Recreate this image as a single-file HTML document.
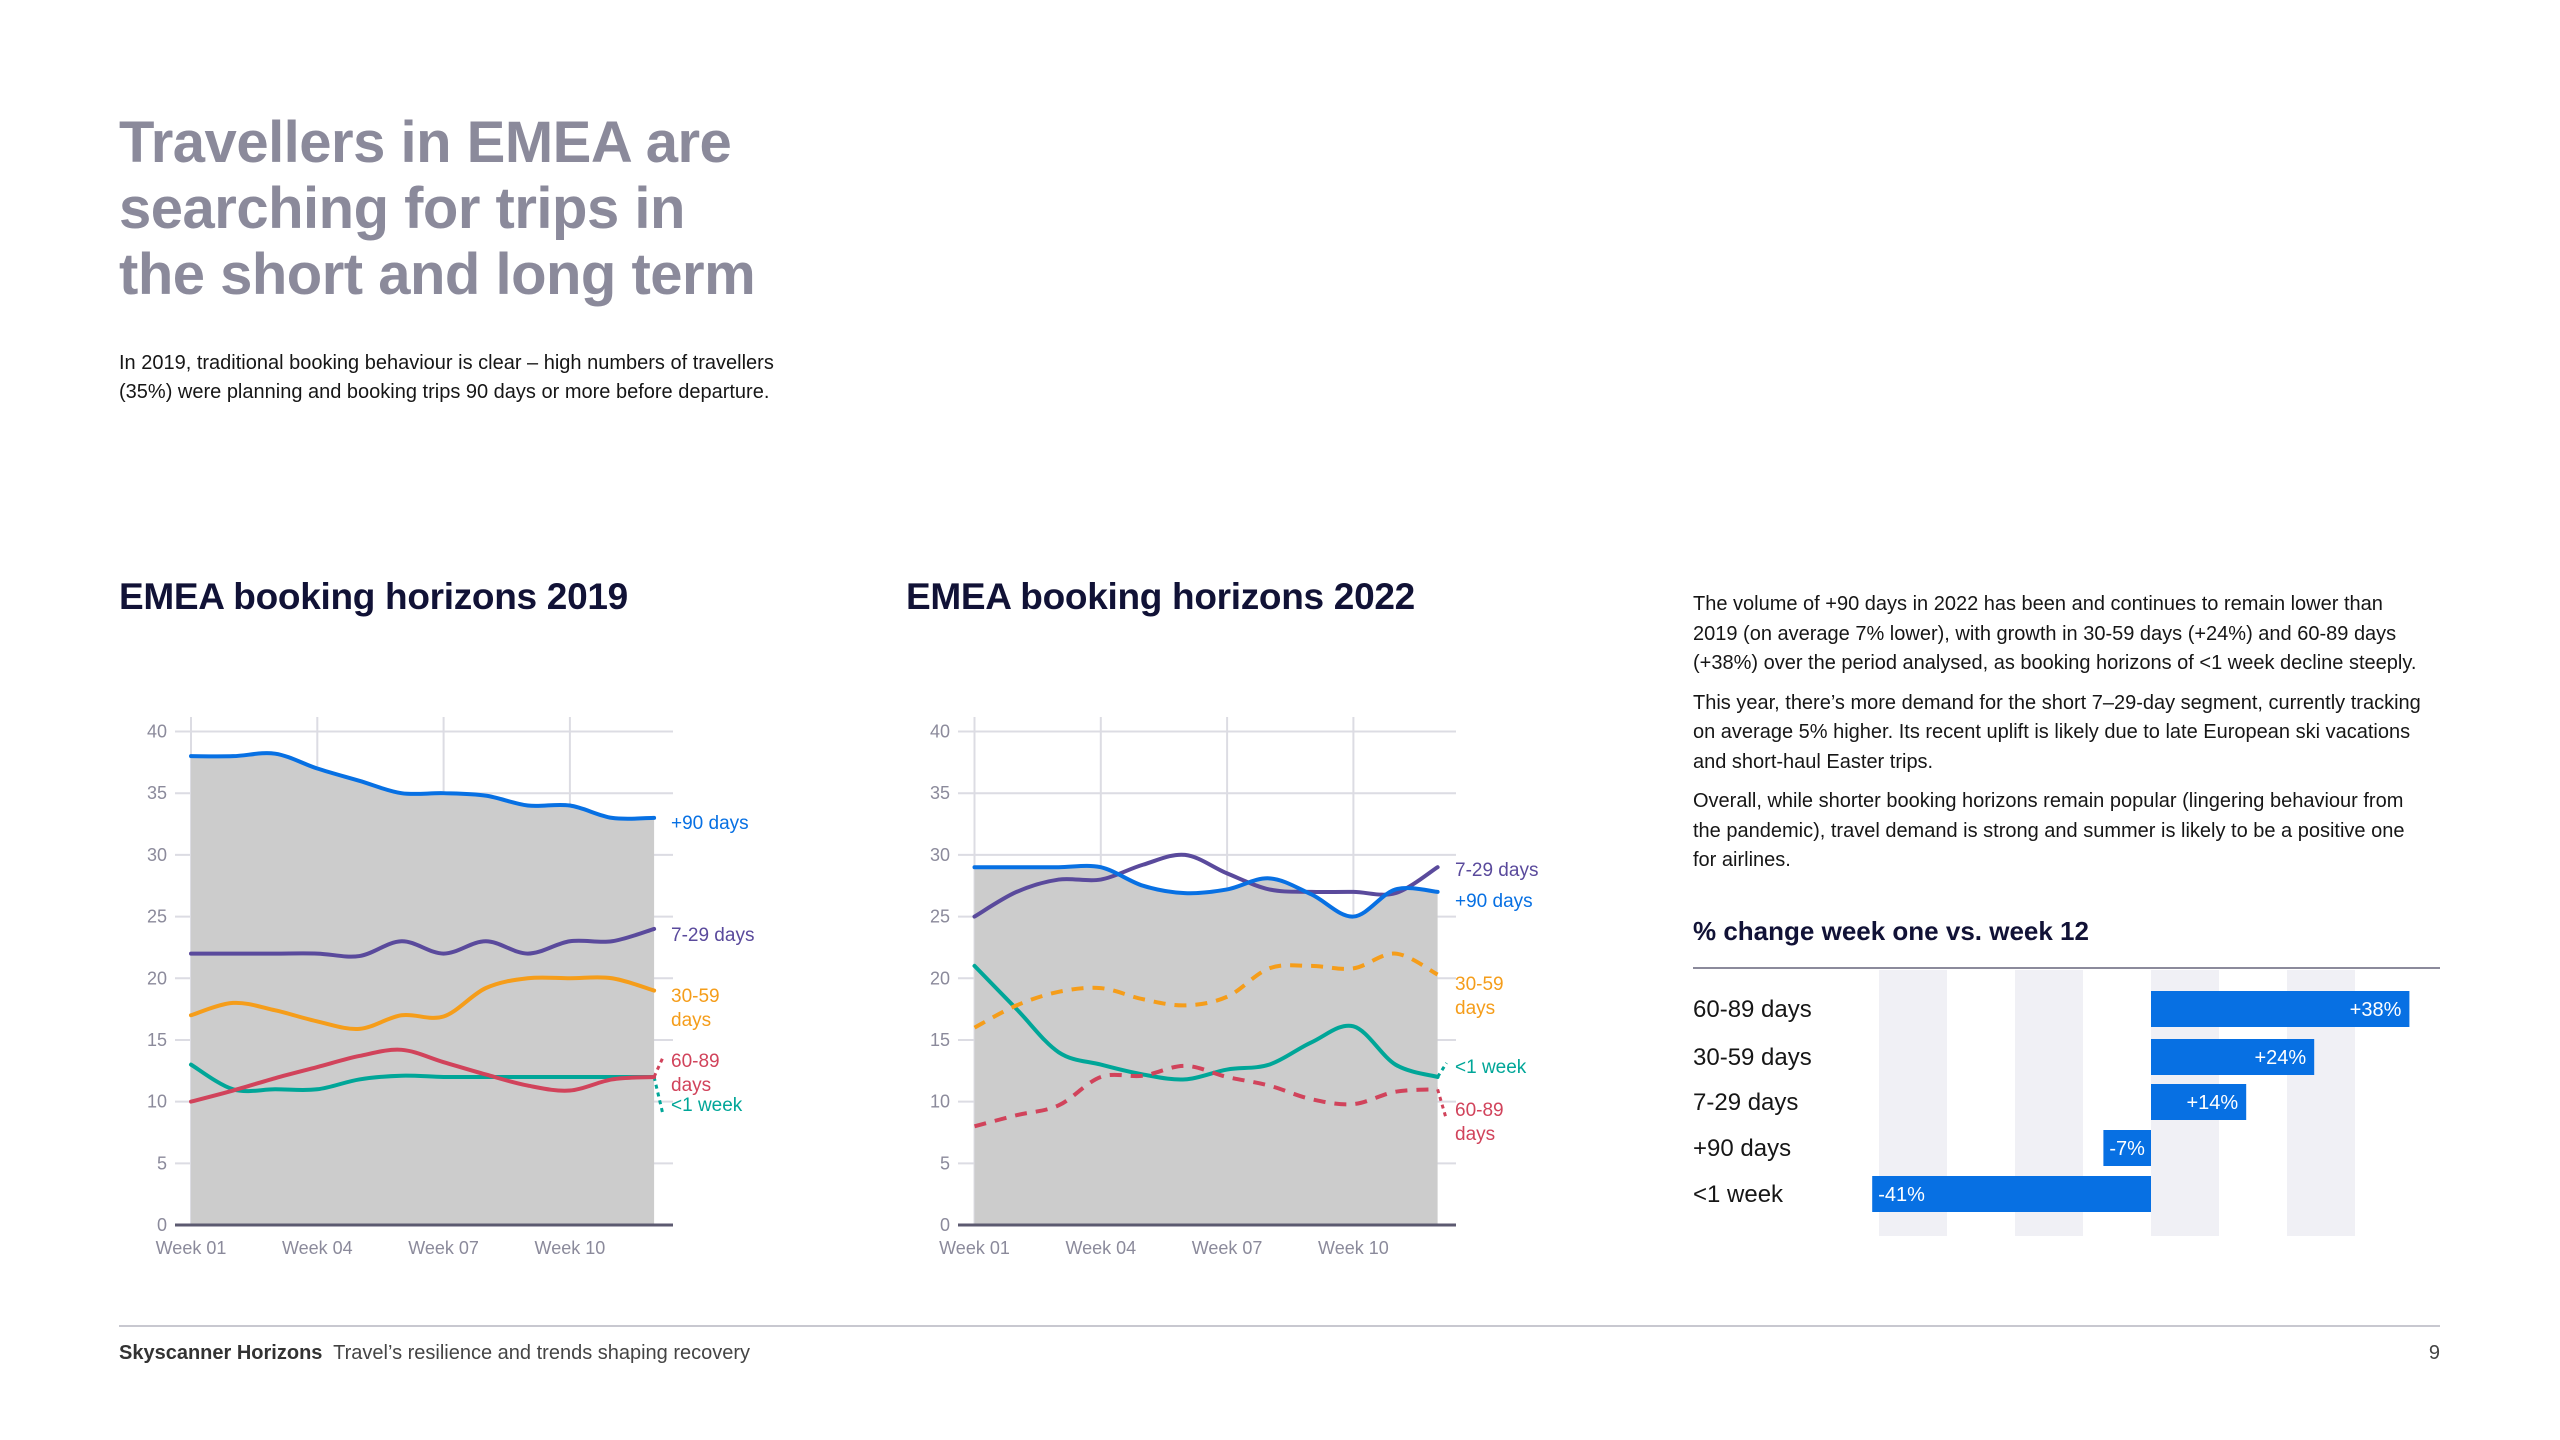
<!DOCTYPE html>
<html><head><meta charset="utf-8">
<style>
html,body{margin:0;padding:0;background:#fff;}
body{width:2560px;height:1440px;position:relative;overflow:hidden;font-family:"Liberation Sans",sans-serif;color:#161616;}
.abs{position:absolute;}
#title{left:119px;top:110px;font-size:58px;line-height:66px;font-weight:bold;color:#8b8a9b;letter-spacing:-0.5px;}
#intro{left:119px;top:349px;font-size:20px;line-height:29px;color:#161616;}
.ctitle{font-size:37px;font-weight:bold;color:#111236;top:576px;letter-spacing:-0.3px;}
#rtext{left:1693px;top:590px;width:738px;font-size:20px;line-height:29.5px;}
#rtext p{margin:0 0 10px 0;}
#bartitle{left:1693px;top:916px;font-size:26px;font-weight:bold;color:#111236;}
#footline{left:119px;top:1325px;width:2321px;height:2px;background:#c8c8d0;}
#foot{left:119px;top:1342px;font-size:20px;color:#444;}
#pagenum{left:2420px;top:1342px;width:20px;text-align:right;font-size:20px;color:#444;}
svg text{font-family:"Liberation Sans",sans-serif;}
</style></head><body>
<div id="title" class="abs">Travellers in EMEA are<br>searching for trips in<br>the short and long term</div>
<div id="intro" class="abs">In 2019, traditional booking behaviour is clear – high numbers of travellers<br>(35%) were planning and booking trips 90 days or more before departure.</div>
<div class="abs ctitle" style="left:119px">EMEA booking horizons 2019</div>
<div class="abs ctitle" style="left:906px">EMEA booking horizons 2022</div>
<div id="rtext" class="abs">
<p>The volume of +90 days in 2022 has been and continues to remain lower than 2019 (on average 7% lower), with growth in 30-59 days (+24%) and 60-89 days (+38%) over the period analysed, as booking horizons of &lt;1 week decline steeply.</p>
<p>This year, there’s more demand for the short 7–29-day segment, currently tracking on average 5% higher. Its recent uplift is likely due to late European ski vacations and short-haul Easter trips.</p>
<p>Overall, while shorter booking horizons remain popular (lingering behaviour from the pandemic), travel demand is strong and summer is likely to be a positive one for airlines.</p>
</div>
<div id="bartitle" class="abs">% change week one vs. week 12</div>
<svg id="charts" class="abs" style="left:0;top:0" width="2560" height="1440"></svg>
<div id="footline" class="abs"></div>
<div id="foot" class="abs"><b style="color:#333">Skyscanner Horizons</b>&nbsp; Travel’s resilience and trends shaping recovery</div>
<div id="pagenum" class="abs">9</div>
<script>
const weeks = ["Week 01","Week 02","Week 03","Week 04","Week 05","Week 06","Week 07","Week 08","Week 09","Week 10","Week 11","Week 12"];
const weekTicks = ["Week 01","Week 04","Week 07","Week 10"];
const yTicks = [0,5,10,15,20,25,30,35,40];
const s2019_90 = [38,38,38.2,37,36,35,35,34.8,34,34,33,33];
const s2019_729 = [22,22,22,22,21.8,23,22,23,22,23,23,24];
const s2019_3059 = [17,18,17.4,16.5,15.9,17,16.9,19.2,20,20,20,19];
const s2019_6089 = [10,10.9,11.9,12.8,13.7,14.2,13.2,12.2,11.3,10.9,11.8,12];
const s2019_lt1 = [13,11,11,11,11.8,12.1,12,12,12,12,12,12];
const s2022_90 = [29,29,29,29,27.5,26.9,27.2,28.1,26.8,25,27.2,27];
const s2022_729 = [25,27,28,28,29.2,30,28.5,27.2,27,27,26.9,29];
const s2022_3059 = [16,17.8,18.9,19.2,18.3,17.8,18.5,20.8,21,20.8,22,20.3];
const s2022_6089 = [8,8.9,9.7,12,12.1,12.9,12,11.3,10.2,9.8,10.8,11];
const s2022_lt1 = [21,17.5,14,13,12.2,11.8,12.6,13,14.8,16.1,13,12];
const barCats = ["60-89 days","30-59 days","7-29 days","+90 days","<1 week"];
const barVals = [38,24,14,-7,-41];
const barLabels = ["+38%","+24%","+14%","-7%","-41%"];

const NS="http://www.w3.org/2000/svg";
const svg=document.getElementById('charts');
function mk(tag,attrs,parent){const e=document.createElementNS(NS,tag);for(const k in attrs)e.setAttribute(k,attrs[k]);(parent||svg).appendChild(e);return e;}
function smooth(pts){let d="M"+pts[0][0]+","+pts[0][1];for(let i=0;i<pts.length-1;i++){const p0=pts[i-1]||pts[i],p1=pts[i],p2=pts[i+1],p3=pts[i+2]||p2;
const c1=[p1[0]+(p2[0]-p0[0])/6,p1[1]+(p2[1]-p0[1])/6],c2=[p2[0]-(p3[0]-p1[0])/6,p2[1]-(p3[1]-p1[1])/6];
d+=" C"+c1[0]+","+c1[1]+" "+c2[0]+","+c2[1]+" "+p2[0]+","+p2[1];}return d;}

function lineChart(cfg){
  const g=mk('g',{});
  
  
  const x0=cfg.x0, step=42.1, yb=1225, yt=731.5;
  const xs=i=>x0+i*step, ys=v=>yb-(v/40)*(yb-yt);
  weekTicks.forEach(t=>{const i=weeks.indexOf(t);
    const l=mk('line',{x1:xs(i),x2:xs(i),y1:717,y2:yb,stroke:'#dcdce3','stroke-width':2},g);
    
    
    const tx=mk('text',{x:xs(i),y:1254,'text-anchor':'middle','font-size':18,fill:'#8b8a9b'},g);tx.textContent=t;
    
    
  });
  yTicks.forEach(v=>{
    if(v>0){const l=mk('line',{x1:cfg.ax0,x2:cfg.ax1,y1:ys(v),y2:ys(v),stroke:'#dcdce3','stroke-width':2},g);
    
    }
    const tx=mk('text',{x:cfg.ax0-8,y:ys(v)+6,'text-anchor':'end','font-size':18,fill:'#8b8a9b'},g);tx.textContent=v;
    
    
  });
  const p90=cfg.series[0].data.map((v,i)=>[xs(i),ys(v)]);
  const area=mk('path',{d:smooth(p90)+" L"+xs(11)+","+yb+" L"+xs(0)+","+yb+" Z",fill:'#cccccc'},g);
  
  
  mk('line',{x1:cfg.ax0,x2:cfg.ax1,y1:yb,y2:yb,stroke:'#5c5a70','stroke-width':3},g);
  cfg.series.slice().reverse().forEach(s=>{
    const pts=s.data.map((v,i)=>[xs(i),ys(v)]);
    const p=mk('path',{d:smooth(pts),fill:'none',stroke:s.color,'stroke-width':4,'stroke-linecap':s.dash?'butt':'round','stroke-dasharray':s.dash?'12 9':'none'},g);
    
    
    if(s.conn){const last=pts[11];
      const c=mk('line',{x1:last[0],y1:last[1],x2:last[0]+9,y2:s.ly-(s.conn>0?-4:10),stroke:s.color,'stroke-width':3,'stroke-dasharray':'4 4'},g);
      
      }
    s.lbl.forEach((t,k)=>{const tx=mk('text',{x:cfg.lx,y:s.ly+k*24,'font-size':19,fill:s.color},g);tx.textContent=t;
      
      });
  });
}
lineChart({name:'chart-2019',x0:191,ax0:175,ax1:673,lx:671,series:[
 {key:'90',data:s2019_90,color:'#0770e3',lbl:['+90 days'],ly:829},
 {key:'7-29',data:s2019_729,color:'#5a4a9c',lbl:['7-29 days'],ly:941},
 {key:'30-59',data:s2019_3059,color:'#f59d1a',lbl:['30-59','days'],ly:1002},
 {key:'60-89',data:s2019_6089,color:'#d1435b',lbl:['60-89','days'],ly:1067,conn:-1},
 {key:'lt1',data:s2019_lt1,color:'#00a698',lbl:['<1 week'],ly:1111,conn:1}]});
lineChart({name:'chart-2022',x0:974.5,ax0:958,ax1:1456,lx:1455,series:[
 {key:'90',data:s2022_90,color:'#0770e3',lbl:['+90 days'],ly:907},
 {key:'7-29',data:s2022_729,color:'#5a4a9c',lbl:['7-29 days'],ly:876},
 {key:'30-59',data:s2022_3059,color:'#f59d1a',lbl:['30-59','days'],ly:990,dash:true},
 {key:'60-89',data:s2022_6089,color:'#d1435b',lbl:['60-89','days'],ly:1116,conn:1,dash:true},
 {key:'lt1',data:s2022_lt1,color:'#00a698',lbl:['<1 week'],ly:1073,conn:-1}]});

(function(){
  const g=mk('g',{});
  
  
  const zero=2151, px=6.8, rowY=[1009,1057,1102,1148,1194], bh=36;
  const xb=v=>zero+v*px;
  [[-40,-30],[-20,-10],[0,10],[20,30]].forEach(r=>{
    const st=mk('rect',{x:xb(r[0]),y:970,width:xb(r[1])-xb(r[0]),height:266,fill:'#f0f0f5'},g);
    
    
  });
  mk('line',{x1:1693,x2:2440,y1:968,y2:968,stroke:'#8b8a9b','stroke-width':2},g);
  barCats.forEach((c,i)=>{
    const v=barVals[i],y=rowY[i];
    const r=mk('rect',{x:Math.min(xb(0),xb(v)),y:y-bh/2,width:Math.abs(v)*px,height:bh,fill:'#0770e3'},g);
    
    
    const lt=mk('text',{x:1693,y:y+8,'font-size':24,fill:'#161616'},g);lt.textContent=c;
    
    
    const vt=mk('text',{x:v>=0?xb(v)-8:xb(v)+6,y:y+7,'font-size':20,fill:'#fff','text-anchor':v>=0?'end':'start'},g);vt.textContent=barLabels[i];
    
    
  });
})();
</script>
</body></html>
